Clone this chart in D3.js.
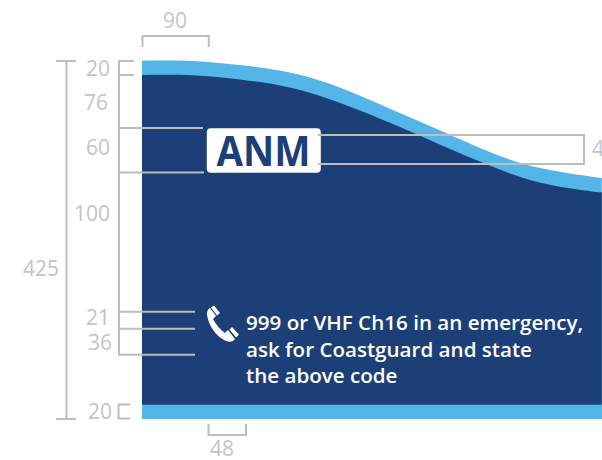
<!DOCTYPE html>
<html><head><meta charset="utf-8">
<style>html,body{margin:0;padding:0;background:#fff;overflow:hidden}svg{display:block}text{font-family:"Open Sans","Noto Sans",sans-serif}</style>
<script src="https://d3js.org/d3.v7.min.js"></script></head>
<body><svg id="c" width="602" height="460"></svg>
<script>
// drawing units (mm on the sign face); 1 unit = 0.75 px horizontally and vertically
const curveX   = [0, 67, 133, 200, 267, 333, 400, 467, 533, 600, 613];
const outerTop = [0, 0.4, 6.1, 16.4, 36.9, 64.8, 93.9, 122.9, 143.3, 154.6, 156.2];
const innerTop = [19, 19.4, 25.3, 36.3, 57.2, 83.7, 112.9, 141, 162.8, 174, 174.8];
const bandBottom = [458, 477];
const dimLabels = ["90","20","76","60","100","425","21","36","20","48","40"];
const message = ["999 or VHF Ch16 in an emergency,","ask for Coastguard and state","the above code"];
const code = "ANM";

const x = d3.scaleLinear().domain([0,613.3]).range([142,602]);
const y = d3.scaleLinear().domain([0,477]).range([60.7,419]);
const svg = d3.select("#c");
const NAVY="#1d3f78", SKY="#53b5e8", GREY="#bdbdbd", TXT="#c4c4c4";

const rows = curveX.map((d,i)=>({x:d,o:outerTop[i],n:innerTop[i]}));
const curve = d3.curveNatural;
const area = (top)=>d3.area().x(d=>x(d.x)).y0(y(477)).y1(d=>y(d[top])).curve(curve);
svg.append("path").datum(rows).attr("d",area("o")).attr("fill",SKY);
svg.append("path").datum(rows).attr("d",area("n")).attr("fill",NAVY);
svg.append("rect").attr("x",x(0)).attr("width",x(613.3)-x(0)).attr("y",y(bandBottom[0])).attr("height",y(bandBottom[1])-y(bandBottom[0])).attr("fill",SKY);

const line=(a,b,c,d,w=2,col=GREY)=>svg.append("line").attr("x1",a).attr("y1",b).attr("x2",c).attr("y2",d).attr("stroke",col).attr("stroke-width",w);
const poly=(pts,w=2,col=GREY)=>svg.append("path").attr("d",d3.line()(pts)).attr("fill","none").attr("stroke",col).attr("stroke-width",w);

// white code plate
svg.append("rect").attr("x",206.8).attr("y",128.3).attr("width",114).attr("height",44.4).attr("rx",4).attr("fill","#fff");
svg.append("text").attr("x",216.5).attr("y",165.7).attr("textLength",94).attr("lengthAdjust","spacingAndGlyphs").attr("font-size",42).attr("font-weight",700).attr("fill",NAVY).text(code);

// dimension lines
poly([[142.5,47],[142.5,36],[208.8,36],[208.8,47]]);
poly([[208.5,424],[208.5,435],[246,435],[246,424]]);
line(66.5,61,66.5,419); line(56,61,76,61); line(56,419,76,419);
line(119,60,119,355);
line(118,61,134,61); line(118,75,134,75);
line(119,128,203,128); line(119,172.5,204,172.5);
line(119,311.7,195,311.7); line(119,328.7,195,328.7); line(118,354.7,195,354.7);
poly([[130,404.5],[118.5,404.5],[118.5,418.5],[130,418.5]]);
poly([[318,135],[584,135],[584,164],[318,164]]);

// dimension labels
const labelPos=[[175,28,"middle"],[110,75.5,"end"],[108,110,"end"],[110,155,"end"],[110,220.5,"end"],[59,276,"end"],[110,325,"end"],[112,350,"end"],[112,418.5,"end"],[222,456,"middle"],[592,156,"start"]];
svg.selectAll("text.d").data(dimLabels).join("text").attr("class","d")
 .attr("x",(d,i)=>labelPos[i][0]).attr("y",(d,i)=>labelPos[i][1]).attr("text-anchor",(d,i)=>labelPos[i][2])
 .attr("font-size",21).attr("fill",TXT).text(d=>d);

// handset
svg.append("path").attr("fill","#fff").attr("d","M207,314 C207,311 208,309 210,308 L216,316 L213,319 C216,325 221,330 225,333 L228,330 L235,339 C234,341 231,342 228,341.5 C218,339 208,326 207,314 Z");
svg.append("path").attr("fill","#fff").attr("d","M211,307.5 L214,305.5 L220,313 L217,315.5 Z");
svg.append("path").attr("fill","#fff").attr("d","M229.5,329.5 L232,327 L239,334.5 L236,337.5 Z");

// message
svg.selectAll("text.m").data(message).join("text").attr("class","m")
 .attr("x",246).attr("y",(d,i)=>[330,357,383][i]).attr("font-size",20.6).attr("font-weight",600).attr("fill","#fff").text(d=>d);
</script></body></html>
